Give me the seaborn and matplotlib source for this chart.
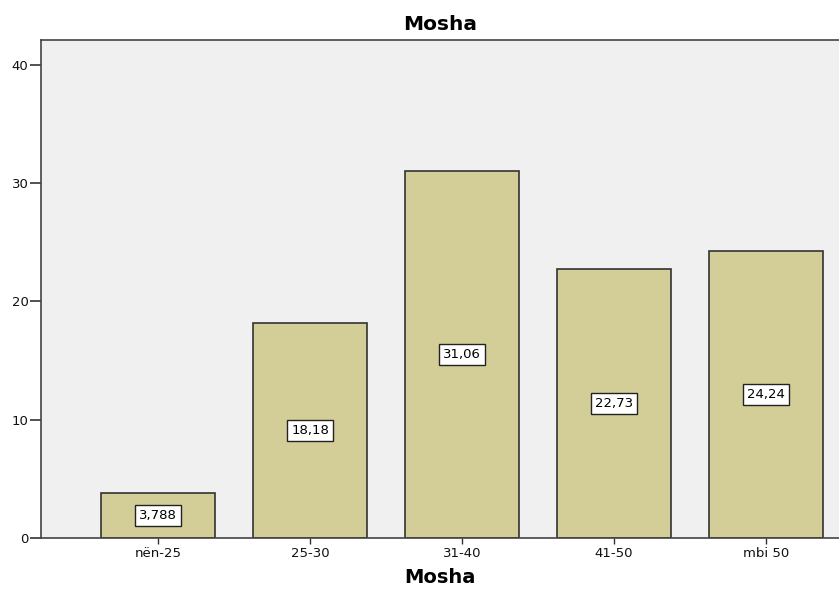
import matplotlib
matplotlib.use("Agg")
import matplotlib.pyplot as plt
import seaborn as sns
import pandas as pd

categories = ["nën-25", "25-30", "31-40", "41-50", "mbi 50"]
values = [3.788, 18.18, 31.06, 22.73, 24.24]
value_labels = ["3,788", "18,18", "31,06", "22,73", "24,24"]
yticks = [0, 10, 20, 30, 40]

sns.set_style("white")
plt.rcParams['font.family'] = ['DejaVu Sans']
plt.rcParams['text.color'] = 'black'
plt.rcParams['xtick.color'] = '#333333'
plt.rcParams['ytick.color'] = '#333333'
plt.rcParams['xtick.labelcolor'] = '#111111'
plt.rcParams['ytick.labelcolor'] = '#111111'

df = pd.DataFrame({"Mosha": categories, "Perqindja": values})

fig = plt.figure(figsize=(8.39, 5.92), dpi=100)
ax = fig.add_axes([41/839, 54/592, 1 - 41/839, (538-40)/592])
ax.set_facecolor("#f0f0f0")

sns.barplot(data=df, x="Mosha", y="Perqindja", order=categories, color="#d3ce97",
            saturation=1, width=0.75, edgecolor="#333333", linewidth=1.2, ax=ax)

for i, (v, lab) in enumerate(zip(values, value_labels)):
    ax.text(i, v / 2, lab, ha="center", va="center", fontsize=9.5, color="black",
            bbox=dict(boxstyle="square,pad=0.3", facecolor="white", edgecolor="#222222", linewidth=1))

ax.set_xlim(-0.77, 4.48)
ax.set_ylim(0, 42.1)
ax.set_yticks(yticks)
ax.set_yticklabels([str(t) for t in yticks], fontsize=9.5)
ax.tick_params(axis="x", labelsize=9.5, length=4.5, width=1, direction="out", bottom=True, pad=2)
ax.tick_params(axis="y", length=8, width=1.2, direction="out", left=True, pad=1)
for s in ["left", "bottom", "top"]:
    ax.spines[s].set_visible(True)
    ax.spines[s].set_color("#444444")
    ax.spines[s].set_linewidth(1.2)
ax.spines["right"].set_visible(False)

ax.set_ylabel("")
ax.set_xlabel("Mosha", fontsize=14, fontweight="bold", labelpad=6, color="black")
ax.set_title("Mosha", fontsize=14.5, fontweight="bold", pad=7, color="black")

fig.savefig("out.png", dpi=100)
